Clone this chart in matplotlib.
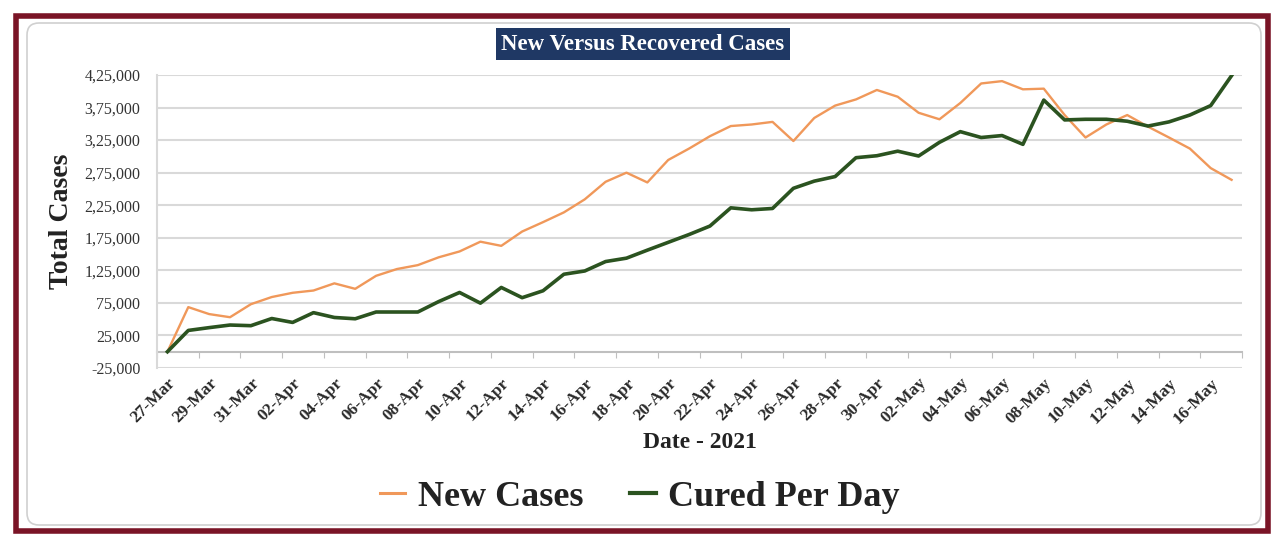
"""
New versus recovered COVID cases, India, 27-Mar to 17-May 2021.
Excel-style line chart with Indian digit grouping on the value axis.
"""
import numpy as np
import pandas as pd
import matplotlib
matplotlib.use("Agg")
import matplotlib.pyplot as plt
from matplotlib.lines import Line2D
from matplotlib.patches import Rectangle, FancyBboxPatch
from matplotlib.ticker import FuncFormatter

SERIF = "Liberation Serif"
ORANGE = "#F0985A"
GREEN = "#2B5320"
GRID = "#d9d9d9"
NAVY = "#1F3864"
MAROON = "#7A1426"

dates = pd.date_range("2021-03-27", "2021-05-17", freq="D")
date_labels = [d.strftime("%d-%b") for d in dates]

new_cases = [0, 68500, 57800, 53000, 73000, 84000, 90500, 94000, 105000, 96600,
             116600, 127000, 133000, 145000, 154000, 169000, 162600, 184600, 199000, 214000,
             234000, 261000, 275000, 260000, 294500, 312000, 331000, 346600, 349000, 353000,
             323600, 359000, 378000, 387500, 402000, 391600, 367000, 357000, 382000, 412000,
             415600, 403000, 404000, 363500, 329000, 349000, 363500, 345600, 329000, 312000,
             282000, 264000]
cured = [0, 32700, 37000, 41000, 40000, 51000, 45000, 60000, 52600, 50600,
         61000, 61000, 61000, 77000, 91000, 74600, 98700, 83000, 93600, 119000,
         124000, 138500, 143700, 156000, 168000, 180000, 193000, 221000, 218000, 220000,
         251000, 262000, 269000, 298000, 301000, 308000, 300600, 321600, 338000, 329000,
         332000, 318500, 386500, 356000, 357000, 357000, 354000, 346600, 353000, 363500,
         378000, 424000]

Y_MIN, Y_MAX, Y_STEP = -25000, 425000, 50000


def indian(v, _pos=None):
    """1234567 -> 12,34,567"""
    n = int(round(v))
    sign = "-" if n < 0 else ""
    s = str(abs(n))
    if len(s) > 3:
        head, tail = s[:-3], s[-3:]
        groups = []
        while len(head) > 2:
            groups.insert(0, head[-2:])
            head = head[:-2]
        if head:
            groups.insert(0, head)
        s = ",".join(groups + [tail])
    return sign + s


W, H = 1280, 546
fig = plt.figure(figsize=(W / 100, H / 100), dpi=100)
fig.patch.set_facecolor("white")

# ── frames: maroon outer border + grey rounded chart area (behind the axes) ──
fig.patches.append(Rectangle((16 / W, 1 - 531 / H), (1268 - 16) / W, (531 - 16) / H,
                             transform=fig.transFigure, fill=False,
                             edgecolor=MAROON, linewidth=4, zorder=-5))
fig.patches.append(FancyBboxPatch((0.27, 0.21), 12.34, 5.02,
                                  boxstyle="round,pad=0,rounding_size=0.12",
                                  transform=fig.dpi_scale_trans, facecolor="white",
                                  edgecolor="#d0d0d0", linewidth=1.2, zorder=-5))

ax = fig.add_axes([157 / W, 1 - 368 / H, (1242 - 157) / W, (368 - 75) / H])
ax.set_zorder(2)
ax.set_facecolor("none")

x = np.arange(len(dates))
ax.plot(x, new_cases, color=ORANGE, lw=1.7, zorder=3, solid_joinstyle="round")
ax.plot(x, cured, color=GREEN, lw=2.6, zorder=4, solid_joinstyle="round")

ax.set_xlim(-0.5, len(dates) - 0.5)
ax.set_ylim(Y_MIN, Y_MAX)

yt = np.arange(Y_MIN, Y_MAX + 1, Y_STEP)
ax.set_yticks(yt)
ax.yaxis.set_major_formatter(FuncFormatter(indian))
ax.tick_params(axis="y", length=0, pad=12, labelsize=11.5)
for t in ax.get_yticklabels():
    t.set_fontfamily(SERIF)
    t.set_color("#333333")
ax.grid(axis="y", color=GRID, lw=1.5)
ax.set_axisbelow(True)

ax.set_xticks(x[::2])
ax.set_xticklabels(date_labels[::2], rotation=45, ha="right",
                   rotation_mode="anchor", fontfamily=SERIF,
                   fontweight="bold", fontsize=12.5, color="#2a2a2a")
ax.tick_params(axis="x", length=0, pad=5)

for side in ("top", "right", "bottom"):
    ax.spines[side].set_visible(False)
ax.spines["left"].set_color(GRID)
ax.spines["left"].set_linewidth(1.5)

# category axis crosses the value axis at zero, tick marks between every 2nd category
zero = (0 - Y_MIN) / (Y_MAX - Y_MIN)
sec = ax.secondary_xaxis(zero)
sec.set_xticks(np.arange(-0.5, len(dates), 2))
sec.tick_params(axis="x", length=4, direction="out", color="#bfbfbf",
                labelbottom=False, labeltop=False)
sec.spines["bottom"].set_color("#bfbfbf")
sec.spines["bottom"].set_linewidth(1.5)

# ── texts ──
fig.text(643 / W, 1 - 44 / H, "New Versus Recovered Cases", ha="center", va="center",
         color="white", fontfamily=SERIF, fontweight="bold", fontsize=16.5,
         bbox=dict(facecolor=NAVY, edgecolor="none", pad=4))
fig.text(62 / W, 1 - 221 / H, "Total Cases", rotation=90, ha="center", va="center",
         fontfamily=SERIF, fontweight="bold", fontsize=20, color="#222222")
fig.text(700 / W, 1 - 442 / H, "Date - 2021", ha="center", va="center",
         fontfamily=SERIF, fontweight="bold", fontsize=17, color="#222222")

handles = [Line2D([0], [0], color=ORANGE, lw=2.2, label="New Cases"),
           Line2D([0], [0], color=GREEN, lw=3, label="Cured Per Day")]
leg = fig.legend(handles=handles, loc="center", ncol=2, frameon=False,
                 bbox_to_anchor=(640 / W, 1 - 497 / H),
                 prop=dict(family=SERIF, weight="bold", size=26),
                 handlelength=0.7, handletextpad=0.35, columnspacing=1.3)
for t in leg.get_texts():
    t.set_color("#222222")

fig.savefig("out.png", dpi=100, facecolor="white")
